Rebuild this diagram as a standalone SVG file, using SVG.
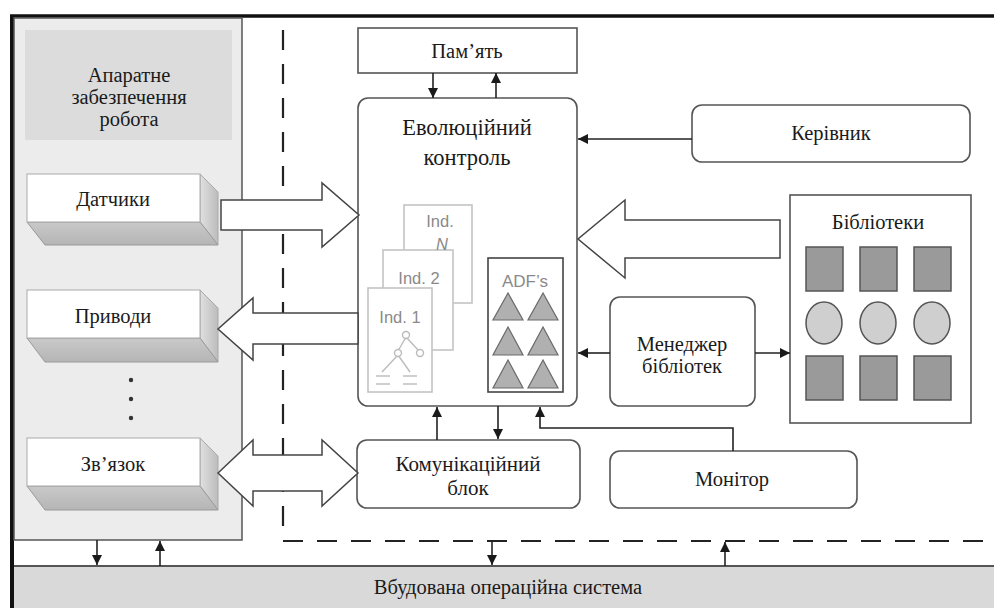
<svg xmlns="http://www.w3.org/2000/svg" width="994" height="608" viewBox="0 0 994 608">
<defs>
<style>
.t{font-family:'Liberation Serif','Times New Roman','DejaVu Serif',serif;fill:#1a1a1a;text-anchor:middle;font-size:20.5px}
.s{font-family:'Liberation Sans',Arial,sans-serif;fill:#8a8a8a;text-anchor:middle;font-size:16.5px}
.box{fill:#fff;stroke:#555;stroke-width:1.6}
.rbox{fill:#fff;stroke:#555;stroke-width:1.6}
.hollow{fill:#fff;stroke:#444;stroke-width:1.5;stroke-linejoin:miter}
.ln{fill:none;stroke:#222;stroke-width:1.6}
.dash{fill:none;stroke:#222;stroke-width:2.2;stroke-dasharray:20 14}
.card{fill:#fff;stroke:#c4c4c4;stroke-width:1.6}
.sq{fill:#9a9a9a;stroke:#555;stroke-width:1.5}
.ci{fill:#cfcfcf;stroke:#555;stroke-width:1.5}
.tri{fill:#b0b0b0;stroke:#6a6a6a;stroke-width:1.2}
.front{fill:#fff;stroke:#aaa;stroke-width:1}
.bottom{fill:url(#gb);stroke:#999;stroke-width:1}
.side{fill:url(#gs);stroke:#aaa;stroke-width:1}
</style>
<linearGradient id="gb" x1="0" y1="0" x2="0" y2="1"><stop offset="0" stop-color="#c9c9c9"/><stop offset="1" stop-color="#b5b5b5"/></linearGradient>
<linearGradient id="gs" x1="0" y1="0" x2="1" y2="0"><stop offset="0" stop-color="#e0e0e0"/><stop offset="1" stop-color="#bcbcbc"/></linearGradient>
<marker id="ah" viewBox="0 0 10 10" refX="10" refY="5" markerWidth="10" markerHeight="10" markerUnits="userSpaceOnUse" orient="auto"><path d="M0,0 L10,5 L0,10 Z" fill="#1a1a1a"/></marker>
</defs>
<rect width="994" height="608" fill="#fff"/>
<g id="frame">
<line x1="10" y1="16" x2="994" y2="16" stroke="#111" stroke-width="3.5"/>
<line x1="12" y1="15" x2="12" y2="608" stroke="#111" stroke-width="4"/>
</g>
<g id="hardware">
<rect x="14" y="18" width="228" height="522" fill="#ececec" stroke="#555" stroke-width="1.5"/>
<rect x="25" y="30" width="207" height="110" fill="#dcdcdc"/>
<text class="t" x="129" y="82">Апаратне</text>
<text class="t" x="129" y="104">забезпечення</text>
<text class="t" x="129" y="126">робота</text>
</g>
<g id="sensors">
<polygon class="side" points="200,174 218,192 218,245 200,222"/>
<polygon class="bottom" points="27,222 200,222 218,245 45,245"/>
<rect class="front" x="27" y="174" width="173" height="48"/>
<text class="t" x="113" y="206">Датчики</text>
</g>
<g id="actuators">
<polygon class="side" points="200,290 218,308 218,362 200,338"/>
<polygon class="bottom" points="27,338 200,338 218,362 45,362"/>
<rect class="front" x="27" y="290" width="173" height="48"/>
<text class="t" x="113" y="323">Приводи</text>
</g>
<g id="dots" fill="#333">
<circle cx="131" cy="380" r="2.2"/>
<circle cx="131" cy="399" r="2.2"/>
<circle cx="131" cy="418" r="2.2"/>
</g>
<g id="link">
<polygon class="side" points="200,438 218,456 218,510 200,486"/>
<polygon class="bottom" points="27,486 200,486 218,510 45,510"/>
<rect class="front" x="27" y="438" width="173" height="48"/>
<text class="t" x="113" y="471">Зв’язок</text>
</g>
<g id="os">
<rect x="14" y="566" width="980" height="42" fill="#d9d9d9"/>
<line x1="14" y1="566" x2="994" y2="566" stroke="#555" stroke-width="2"/>
<text class="t" x="508" y="594">Вбудована операційна система</text>
</g>
<g id="boundary">
<path class="dash" d="M283,30 V531 M283,541 H994"/>
</g>
<g id="memory">
<rect class="box" x="358" y="28" width="219" height="45" stroke-width="2"/>
<text class="t" x="467" y="58">Пам’ять</text>
</g>
<g id="evo">
<rect class="rbox" x="358" y="98" width="219" height="308" rx="10"/>
<text class="t" style="font-size:22.5px" x="467" y="135">Еволюційний</text>
<text class="t" style="font-size:22.5px" x="467" y="165">контроль</text>
<rect class="card" x="404" y="205" width="68" height="98"/>
<text class="s" x="440" y="227">Ind.</text>
<rect class="card" x="383" y="250" width="70" height="100"/>
<text class="s" font-style="italic" x="442" y="250" fill="#444">N</text>
<text class="s" x="419" y="284">Ind. 2</text>
<rect class="card" x="368" y="288" width="64" height="104"/>
<text class="s" x="400" y="323">Ind. 1</text>
<g stroke="#bbb" stroke-width="1.4" fill="#fff">
<line x1="406" y1="337" x2="398" y2="351"/>
<line x1="406" y1="337" x2="419" y2="351"/>
<line x1="398" y1="355" x2="382" y2="372"/>
<line x1="398" y1="355" x2="410" y2="372"/>
<circle cx="406" cy="335" r="3.5"/>
<circle cx="398" cy="353" r="3.5"/>
<circle cx="420" cy="353" r="3.5"/>
<line x1="376" y1="376" x2="390" y2="376"/>
<line x1="376" y1="384" x2="390" y2="384"/>
<line x1="403" y1="376" x2="417" y2="376"/>
<line x1="403" y1="384" x2="417" y2="384"/>
</g>
<rect x="488" y="258" width="75" height="134" fill="#fff" stroke="#444" stroke-width="1.6"/>
<text class="s" style="font-size:17px" x="525" y="287" fill="#555">ADF’s</text>
<polygon class="tri" points="508,293 493,320 523,320"/>
<polygon class="tri" points="543,293 528,320 558,320"/>
<polygon class="tri" points="508,327 493,355 523,355"/>
<polygon class="tri" points="543,327 528,355 558,355"/>
<polygon class="tri" points="508,360 493,388 523,388"/>
<polygon class="tri" points="543,360 528,388 558,388"/>
</g>
<g id="manager">
<rect class="rbox" x="692" y="105" width="278" height="57" rx="10"/>
<text class="t" x="831" y="140">Керівник</text>
</g>
<g id="libraries">
<rect x="790" y="195" width="181" height="228" fill="#fff" stroke="#555" stroke-width="1.6"/>
<text class="t" x="878" y="229">Бібліотеки</text>
<rect class="sq" x="806" y="247" width="37" height="44"/>
<rect class="sq" x="860" y="247" width="37" height="44"/>
<rect class="sq" x="914" y="247" width="37" height="44"/>
<ellipse class="ci" cx="824" cy="323" rx="18" ry="21"/>
<ellipse class="ci" cx="878" cy="323" rx="18" ry="21"/>
<ellipse class="ci" cx="932" cy="323" rx="18" ry="21"/>
<rect class="sq" x="806" y="356" width="37" height="44"/>
<rect class="sq" x="860" y="356" width="37" height="44"/>
<rect class="sq" x="914" y="356" width="37" height="44"/>
</g>
<g id="libmanager">
<rect class="rbox" x="610" y="297" width="145" height="109" rx="10"/>
<text class="t" x="682" y="351">Менеджер</text>
<text class="t" x="682" y="373">бібліотек</text>
</g>
<g id="comm">
<rect class="rbox" x="357" y="440" width="223" height="68" rx="10"/>
<text class="t" style="font-size:21px" x="468" y="471">Комунікаційний</text>
<text class="t" style="font-size:21px" x="468" y="495">блок</text>
</g>
<g id="monitor">
<rect class="rbox" x="610" y="451" width="247" height="57" rx="10"/>
<text class="t" x="732" y="486">Монітор</text>
</g>
<g id="connectors">
<polygon class="hollow" points="221,200 322,200 322,183 359,215 322,247 322,230 221,230"/>
<polygon class="hollow" points="358,313 253,313 253,298 218,329 253,360 253,344 358,344"/>
<polygon class="hollow" points="218,473 253,440 253,455 322,455 322,440 358,473 322,506 322,491 253,491 253,506"/>
<polygon class="hollow" points="780,220 625,220 625,200 578,239 625,278 625,258 780,258"/>
<line class="ln" x1="433" y1="73" x2="433" y2="98" marker-end="url(#ah)"/>
<line class="ln" x1="496" y1="98" x2="496" y2="73" marker-end="url(#ah)"/>
<line class="ln" x1="692" y1="139" x2="578" y2="139" marker-end="url(#ah)"/>
<line class="ln" x1="610" y1="353" x2="578" y2="353" marker-end="url(#ah)"/>
<line class="ln" x1="755" y1="353" x2="790" y2="353" marker-end="url(#ah)"/>
<line class="ln" x1="437" y1="440" x2="437" y2="407" marker-end="url(#ah)"/>
<line class="ln" x1="498" y1="406" x2="498" y2="439" marker-end="url(#ah)"/>
<polyline class="ln" points="733,451 733,428 540,428 540,407" marker-end="url(#ah)"/>
<line class="ln" x1="97" y1="540" x2="97" y2="565" marker-end="url(#ah)"/>
<line class="ln" x1="160" y1="566" x2="160" y2="541" marker-end="url(#ah)"/>
<line class="ln" x1="492" y1="541" x2="492" y2="565" marker-end="url(#ah)"/>
<line class="ln" x1="725" y1="566" x2="725" y2="542" marker-end="url(#ah)"/>
</g>
</svg>
